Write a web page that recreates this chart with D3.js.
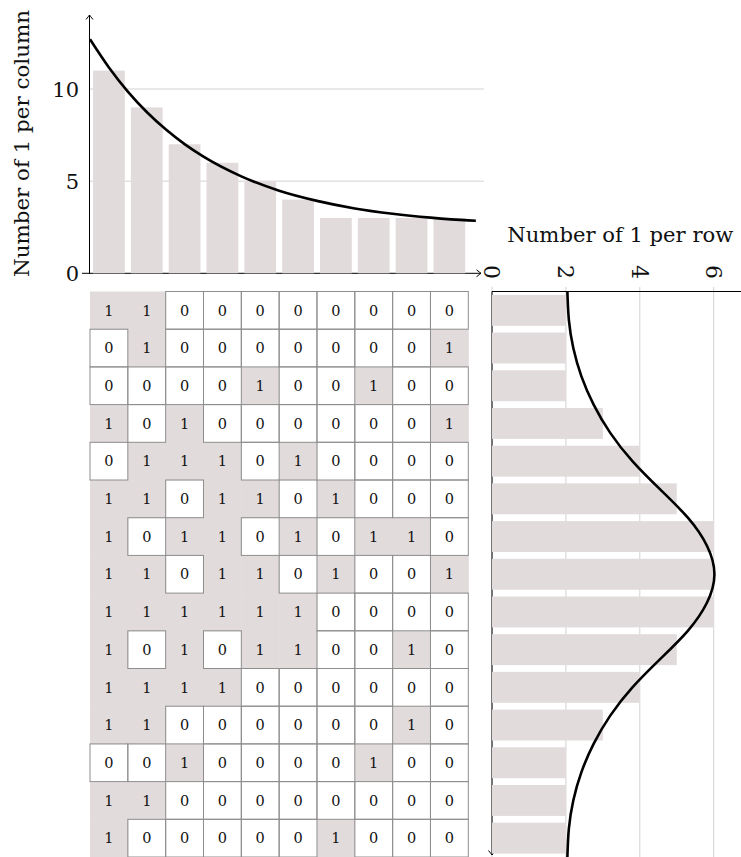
<!DOCTYPE html>
<html><head><meta charset="utf-8">
<script src="https://cdn.jsdelivr.net/npm/d3@7/dist/d3.min.js"></script>
<style>body{margin:0;background:#fff}svg{display:block}</style>
</head><body>
<svg id="chart" width="741" height="857"></svg>
<script>
// ---- data ----
const matrix = [
  [1,1,0,0,0,0,0,0,0,0],
  [0,1,0,0,0,0,0,0,0,1],
  [0,0,0,0,1,0,0,1,0,0],
  [1,0,1,0,0,0,0,0,0,1],
  [0,1,1,1,0,1,0,0,0,0],
  [1,1,0,1,1,0,1,0,0,0],
  [1,0,1,1,0,1,0,1,1,0],
  [1,1,0,1,1,0,1,0,0,1],
  [1,1,1,1,1,1,0,0,0,0],
  [1,0,1,0,1,1,0,0,1,0],
  [1,1,1,1,0,0,0,0,0,0],
  [1,1,0,0,0,0,0,0,1,0],
  [0,0,1,0,0,0,0,1,0,0],
  [1,1,0,0,0,0,0,0,0,0],
  [1,0,0,0,0,0,1,0,0,0]
];
const columnCounts = [11,9,7,6,5,4,3,3,3,3];
const rowCounts = [2,2,2,3,4,5,6,6,6,5,4,3,2,2,2];
const columnTicks = [0,5,10];
const rowTicks = [0,2,4,6];
const columnTitle = "Number of 1 per column";
const rowTitle = "Number of 1 per row";
// fitted curve over the columns (position in column units)
const columnCurvePos = [0,0.5,1,1.5,2,2.5,3,4,5,6,7,8,9,10,10.2];
const columnCurveVal = [12.7,11.17,9.86,8.75,7.81,7.01,6.33,5.26,4.48,3.93,3.52,3.23,3.02,2.87,2.85];
// fitted curve over the rows (position in row units)
const rowCurvePos = [0,0.75,1.5,2.25,3,3.75,4.5,5.25,6,6.75,7.5,8.25,9,9.75,10.5,11.25,12,12.75,13.5,14.25,15];
const rowCurveVal = [2.04,2.08,2.2,2.42,2.75,3.2,3.8,4.55,5.3,5.82,6.02,5.82,5.3,4.55,3.8,3.2,2.75,2.42,2.2,2.08,2.04];

// ---- layout ----
const FONT = "DejaVu Serif";
const barColor = "#e1dbdc";
const gridColor = "#d2d2d2";
const cellStroke = "#8e8e8e";
const mLeft = 90, mRight = 468.3, mTop = 291.5, mBottom = 857;
const topAxisY = 273.3, topAxisX = 89.5;
const rAxisX = 492;

const svg = d3.select("#chart");
const defs = svg.append("defs");
defs.append("marker").attr("id","arrow").attr("viewBox","-6 -5 8 10")
  .attr("refX",0).attr("refY",0).attr("markerWidth",8).attr("markerHeight",10)
  .attr("markerUnits","userSpaceOnUse").attr("orient","auto")
  .append("path").attr("d","M-4.5,-3.5 Q-1.2,-0.8 0,0 Q-1.2,0.8 -4.5,3.5")
  .attr("fill","none").attr("stroke","#000").attr("stroke-width",1);

const cellX = d3.scaleBand().domain(d3.range(columnCounts.length)).range([mLeft, mRight]);
const cellY = d3.scaleBand().domain(d3.range(rowCounts.length)).range([mTop, mBottom]);
const colBand = d3.scaleBand().domain(d3.range(columnCounts.length)).range([mLeft, mRight]).paddingInner(0.16).paddingOuter(0.08);
const rowBand = d3.scaleBand().domain(d3.range(rowCounts.length)).range([mTop, mBottom]).paddingInner(0.18).paddingOuter(0.09);
const colPos = d3.scaleLinear().domain([0, columnCounts.length]).range([mLeft, mRight]);
const rowPos = d3.scaleLinear().domain([0, rowCounts.length]).range([mTop, mBottom]);
const yTop = d3.scaleLinear().domain([0,10]).range([topAxisY, 89]);
const xRight = d3.scaleLinear().domain([0,6]).range([rAxisX, 713.7]);

// ---- top chart ----
const topG = svg.append("g");
topG.selectAll("line.grid").data(columnTicks.filter(d=>d>0)).join("line")
  .attr("x1", topAxisX).attr("x2", 484).attr("y1", d=>yTop(d)).attr("y2", d=>yTop(d))
  .attr("stroke", gridColor).attr("stroke-width",1);
topG.append("line").attr("x1", 82).attr("x2", 481).attr("y1", topAxisY).attr("y2", topAxisY)
  .attr("stroke","#000").attr("stroke-width",1).attr("marker-end","url(#arrow)");
topG.selectAll("rect").data(columnCounts).join("rect")
  .attr("x",(d,i)=>colBand(i)).attr("width",colBand.bandwidth())
  .attr("y",d=>yTop(d)).attr("height",d=>topAxisY-yTop(d)).attr("fill",barColor);
topG.append("line").attr("x1", topAxisX).attr("x2", topAxisX).attr("y1", topAxisY+0.5).attr("y2", 15)
  .attr("stroke","#000").attr("stroke-width",1).attr("marker-end","url(#arrow)");
topG.selectAll("text.tick").data(columnTicks).join("text")
  .attr("x", 79).attr("y", d=>yTop(d)).attr("dy","0.36em").attr("text-anchor","end")
  .attr("font-family",FONT).attr("font-size",21).attr("fill","#111").text(d=>d);
topG.append("path")
  .datum(columnCurvePos.map((p,i)=>[colPos(p), yTop(columnCurveVal[i])]))
  .attr("d", d3.line().curve(d3.curveMonotoneX))
  .attr("fill","none").attr("stroke","#000").attr("stroke-width",2.6);
topG.append("text").attr("transform",`translate(29,143.5) rotate(-90)`)
  .attr("text-anchor","middle").attr("font-family",FONT).attr("font-size",21)
  .attr("textLength",267).attr("lengthAdjust","spacingAndGlyphs")
  .attr("fill","#111").text(columnTitle);

// ---- matrix ----
const cells = [];
matrix.forEach((row,r)=>row.forEach((v,c)=>cells.push({r,c,v})));
const mg = svg.append("g");
mg.selectAll("rect.on").data(cells.filter(d=>d.v===1)).join("rect")
  .attr("x",d=>cellX(d.c)).attr("y",d=>cellY(d.r))
  .attr("width",cellX.bandwidth()+0.5).attr("height",cellY.bandwidth()+0.5).attr("fill",barColor);
mg.selectAll("rect.off").data(cells.filter(d=>d.v===0)).join("rect")
  .attr("x",d=>cellX(d.c)).attr("y",d=>cellY(d.r))
  .attr("width",cellX.bandwidth()).attr("height",cellY.bandwidth())
  .attr("fill","none").attr("stroke",cellStroke).attr("stroke-width",1);
mg.selectAll("text").data(cells).join("text")
  .attr("x",d=>cellX(d.c)+cellX.bandwidth()/2).attr("y",d=>cellY(d.r)+cellY.bandwidth()/2)
  .attr("dy","0.36em").attr("text-anchor","middle")
  .attr("font-family",FONT).attr("font-size",14.5).attr("fill","#111").text(d=>d.v);

// ---- right chart ----
const rg = svg.append("g");
rg.selectAll("line.grid").data(rowTicks).join("line")
  .attr("x1",d=>xRight(d)).attr("x2",d=>xRight(d)).attr("y1",287).attr("y2",857)
  .attr("stroke",gridColor).attr("stroke-width",1);
rg.append("line").attr("x1",rAxisX).attr("x2",rAxisX).attr("y1",mTop).attr("y2",855)
  .attr("stroke","#000").attr("stroke-width",1).attr("marker-end","url(#arrow)");
rg.selectAll("rect").data(rowCounts).join("rect")
  .attr("x",rAxisX).attr("width",d=>xRight(d)-rAxisX)
  .attr("y",(d,i)=>rowBand(i)).attr("height",rowBand.bandwidth()).attr("fill",barColor);
rg.append("line").attr("x1",rAxisX).attr("x2",741).attr("y1",mTop).attr("y2",mTop)
  .attr("stroke","#000").attr("stroke-width",1);
rg.selectAll("text.tick").data(rowTicks).join("text")
  .attr("transform",d=>`translate(${xRight(d)},265) rotate(90)`)
  .attr("dy","0.36em").attr("text-anchor","start")
  .attr("font-family",FONT).attr("font-size",22).attr("fill","#111").text(d=>d);
rg.append("path")
  .datum(rowCurvePos.map((p,i)=>[xRight(rowCurveVal[i]), rowPos(p)]))
  .attr("d", d3.line().curve(d3.curveNatural))
  .attr("fill","none").attr("stroke","#000").attr("stroke-width",2.6);
rg.append("text").attr("x",507.3).attr("y",242)
  .attr("font-family",FONT).attr("font-size",21)
  .attr("textLength",226).attr("lengthAdjust","spacingAndGlyphs")
  .attr("fill","#111").text(rowTitle);
</script>
</body></html>
